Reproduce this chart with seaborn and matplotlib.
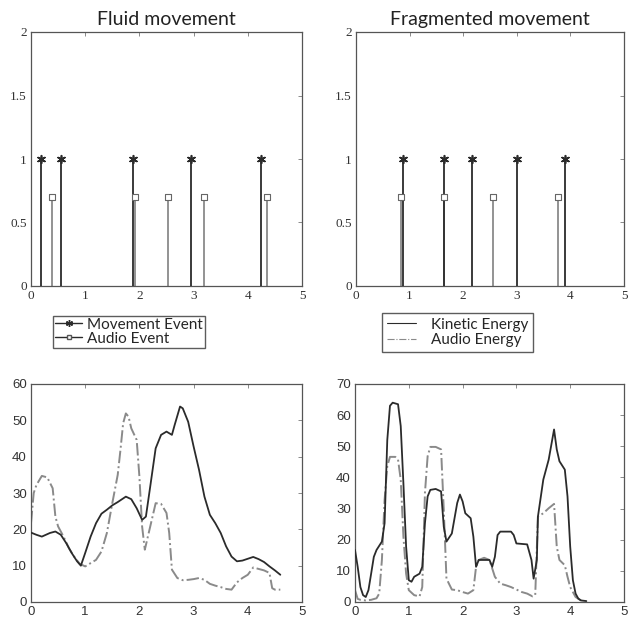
import matplotlib
matplotlib.use("Agg")
import matplotlib.pyplot as plt
import seaborn as sns
import pandas as pd
from matplotlib.lines import Line2D

# ---------------- data ----------------
titles = ["Fluid movement", "Fragmented movement"]

fluid_move_x = [0.18, 0.55, 1.88, 2.96, 4.24]
fluid_audio_x = [0.39, 1.92, 2.52, 3.20, 4.35]
frag_move_x = [0.88, 1.64, 2.16, 3.00, 3.89]
frag_audio_x = [0.84, 1.64, 2.56, 3.76]
move_height = 1.0
audio_height = 0.7

fluid_t = [0, 0.1, 0.2, 0.35, 0.45, 0.55, 0.65, 0.75, 0.85, 0.92, 1.0, 1.1, 1.2, 1.3, 1.4,
           1.5, 1.6, 1.75, 1.85, 1.95, 2.05, 2.12, 2.2, 2.3, 2.4, 2.5, 2.6, 2.65, 2.75, 2.8,
           2.9, 3.0, 3.1, 3.2, 3.3, 3.4, 3.5, 3.6, 3.7, 3.8, 3.9, 4.0, 4.1, 4.2, 4.3, 4.4,
           4.5, 4.6]
fluid_kinetic = [19.1, 18.5, 18.0, 19.0, 19.4, 18.5, 16.2, 13.5, 11.2, 10.0, 13.5, 18.0, 21.7,
                 24.3, 25.4, 26.6, 27.5, 29.0, 28.3, 25.8, 22.6, 23.5, 31.8, 42.3, 46.0, 46.9,
                 46.0, 48.7, 53.8, 53.3, 49.6, 42.8, 36.4, 29.0, 24.0, 21.7, 19.0, 15.3, 12.5,
                 11.2, 11.4, 11.9, 12.4, 11.8, 11.0, 9.8, 8.7, 7.5]

fluid_audio_t = [0, 0.05, 0.1, 0.2, 0.3, 0.4, 0.45, 0.5, 0.6, 0.7, 0.8, 0.9, 1.0, 1.1, 1.2,
                 1.3, 1.4, 1.5, 1.6, 1.65, 1.7, 1.75, 1.8, 1.85, 1.95, 2.0, 2.05, 2.1, 2.2,
                 2.3, 2.4, 2.5, 2.55, 2.6, 2.7, 2.8, 2.9, 3.0, 3.1, 3.2, 3.3, 3.4, 3.5, 3.6,
                 3.7, 3.8, 3.9, 4.0, 4.1, 4.2, 4.3, 4.4, 4.45, 4.5, 4.6]
fluid_audio = [21.7, 30.0, 32.2, 34.7, 34.3, 31.3, 23.5, 20.8, 18.0, 14.8, 12.4, 10.5, 9.8,
               10.7, 11.6, 13.9, 19.0, 27.2, 35.0, 41.8, 49.2, 51.9, 51.0, 47.8, 44.6, 34.5,
               20.8, 14.4, 20.8, 27.2, 27.0, 24.5, 19.0, 8.9, 6.6, 6.0, 6.1, 6.3, 6.6, 6.1,
               5.0, 4.5, 4.1, 3.6, 3.4, 5.4, 6.6, 7.5, 9.5, 9.1, 8.7, 8.0, 3.8, 3.4, 3.4]

frag_t = [0, 0.05, 0.1, 0.15, 0.2, 0.25, 0.3, 0.35, 0.4, 0.5, 0.55, 0.6, 0.65, 0.7, 0.8,
          0.85, 0.9, 0.95, 1.0, 1.05, 1.1, 1.2, 1.25, 1.3, 1.35, 1.4, 1.5, 1.6, 1.65, 1.7,
          1.8, 1.9, 1.95, 2.0, 2.05, 2.15, 2.2, 2.25, 2.3, 2.4, 2.5, 2.55, 2.6, 2.65, 2.7,
          2.9, 2.95, 3.0, 3.2, 3.28, 3.32, 3.38, 3.4, 3.5, 3.6, 3.7, 3.75, 3.8, 3.9, 3.95,
          4.0, 4.05, 4.1, 4.15, 4.2, 4.3]
frag_kinetic = [16.7, 11.3, 4.8, 2.2, 1.6, 3.8, 9.1, 14.5, 16.7, 19.4, 25.3, 52.0, 63.0, 64.0,
                63.5, 56.5, 38.0, 17.8, 7.0, 6.5, 8.1, 9.1, 11.3, 25.3, 33.9, 36.0, 36.3, 35.5,
                24.2, 19.4, 22.0, 31.8, 34.5, 32.3, 28.5, 26.9, 21.0, 11.3, 13.5, 13.5, 13.5,
                11.3, 14.5, 21.5, 22.6, 22.6, 21.5, 18.8, 18.5, 13.5, 7.5, 13.5, 27.4, 39.3,
                45.7, 55.4, 49.0, 45.2, 42.5, 33.9, 17.8, 7.0, 2.7, 1.1, 0.5, 0.3]

frag_audio_t = [0, 0.05, 0.1, 0.2, 0.3, 0.4, 0.45, 0.5, 0.55, 0.6, 0.65, 0.75, 0.8, 0.85, 0.9,
                0.95, 1.0, 1.1, 1.2, 1.25, 1.3, 1.35, 1.4, 1.5, 1.6, 1.65, 1.7, 1.8, 1.9, 2.0,
                2.1, 2.2, 2.25, 2.3, 2.4, 2.5, 2.6, 2.7, 2.8, 2.9, 3.0, 3.1, 3.2, 3.3, 3.35,
                3.4, 3.5, 3.6, 3.7, 3.75, 3.8, 3.9, 3.95, 4.0, 4.1, 4.2]
frag_audio = [3.8, 1.0, 0.7, 0.5, 0.7, 1.2, 2.7, 13.5, 32.8, 43.6, 46.6, 46.6, 45.7, 39.3, 21.0,
              9.1, 3.8, 2.2, 1.8, 4.8, 35.0, 46.8, 49.8, 49.8, 49.0, 29.6, 7.5, 4.0, 3.8, 3.2,
              2.7, 3.8, 11.3, 13.5, 14.2, 13.5, 8.1, 5.9, 5.4, 4.8, 4.0, 3.2, 2.7, 1.8, 2.2,
              27.4, 28.5, 30.1, 31.5, 17.8, 13.5, 11.8, 8.1, 4.8, 1.6, 0.5]

event_labels = ["Movement Event", "Audio Event"]
energy_labels = ["Kinetic Energy", "Audio Energy"]
top_yticks = [0, 0.5, 1, 1.5, 2]
top_yticklabels = ["0", "0.5", "1", "1.5", "2"]
xticks = [0, 1, 2, 3, 4, 5]
bl_yticks = [0, 10, 20, 30, 40, 50, 60]
br_yticks = [0, 10, 20, 30, 40, 50, 60, 70]

# ---------------- style ----------------
sns.set_style("white")
plt.rcParams["font.family"] = ["DejaVu Sans"]

W, H = 629, 624
fig = plt.figure(figsize=(W / 100, H / 100), dpi=100)

def rect(l, t, r, b):
    return [l / W, 1 - b / H, (r - l) / W, (b - t) / H]

ax_tl = fig.add_axes(rect(31, 32, 302, 286))
ax_tr = fig.add_axes(rect(356, 32, 624, 286))
ax_bl = fig.add_axes(rect(31, 384, 302, 602))
ax_br = fig.add_axes(rect(355, 384, 624, 602))

MOVE_C = "#2b2b2b"
AUDIO_C = "#8a8a8a"
SPINE_C = "#555555"
ASTERISK = (6, 2, 0)

def style_axes(ax, serif):
    for s in ax.spines.values():
        s.set_color(SPINE_C)
        s.set_linewidth(0.9)
    ax.tick_params(direction="in", length=3, width=0.6, color="#777777",
                   top=True, right=True, labelsize=9.5, labelcolor="#333333", pad=3)
    fam = ["Liberation Serif"] if serif else ["Liberation Sans"]
    for lab in ax.get_xticklabels() + ax.get_yticklabels():
        lab.set_family(fam)

def draw_events(ax, mx, ax_x, title):
    ax.vlines(ax_x, 0, audio_height, color=AUDIO_C, linewidth=1.3, zorder=2)
    ax.vlines(mx, 0, move_height, color=MOVE_C, linewidth=1.3, zorder=3)
    sns.scatterplot(x=ax_x, y=[audio_height] * len(ax_x), ax=ax, marker="s", s=22,
                    facecolor="white", edgecolor="#666666", linewidth=0.8, zorder=4)
    sns.scatterplot(x=mx, y=[move_height] * len(mx), ax=ax, marker=ASTERISK, s=30,
                    color=MOVE_C, edgecolor=MOVE_C, linewidth=1.2, zorder=5)
    ax.set_xlim(0, 5)
    ax.set_ylim(0, 2)
    ax.set_xticks(xticks)
    ax.set_yticks(top_yticks)
    ax.set_yticklabels(top_yticklabels)
    ax.set_xlabel("")
    ax.set_ylabel("")
    ax.set_title(title, fontsize=14, family=["Lato"], color="#222222", pad=5)
    style_axes(ax, serif=True)

draw_events(ax_tl, fluid_move_x, fluid_audio_x, titles[0])
draw_events(ax_tr, frag_move_x, frag_audio_x, titles[1])

def draw_energy(ax, kt, kv, at, av, ymax, yt):
    sns.lineplot(x=kt, y=kv, ax=ax, color=MOVE_C, linewidth=1.3, zorder=3)
    sns.lineplot(x=at, y=av, ax=ax, color=AUDIO_C, linewidth=1.4, linestyle="-.", zorder=2)
    ax.set_xlim(0, 5)
    ax.set_ylim(0, ymax)
    ax.set_xticks(xticks)
    ax.set_yticks(yt)
    ax.set_xlabel("")
    ax.set_ylabel("")
    style_axes(ax, serif=False)

draw_energy(ax_bl, fluid_t, fluid_kinetic, fluid_audio_t, fluid_audio, 60, bl_yticks)
draw_energy(ax_br, frag_t, frag_kinetic, frag_audio_t, frag_audio, 70, br_yticks)

# ---------------- legends ----------------
h_events = [
    Line2D([], [], color=MOVE_C, linewidth=1.0, marker=ASTERISK, markersize=5,
           markeredgewidth=1.0),
    Line2D([], [], color=MOVE_C, linewidth=1.0, marker="s", markersize=3.5,
           markerfacecolor="white", markeredgecolor="#555555"),
]
leg1 = fig.legend(h_events, event_labels, loc="upper left",
                  bbox_to_anchor=(53 / W, 1 - 316 / H), frameon=True, fancybox=False,
                  edgecolor="#333333", prop={"family": "Lato", "size": 11},
                  handlelength=1.8, handletextpad=0.3, borderpad=0.12, labelspacing=0.0,
                  borderaxespad=0, numpoints=1, markerfirst=True)
leg1.get_frame().set_linewidth(1.0)

h_energy = [
    Line2D([], [], color=MOVE_C, linewidth=0.8),
    Line2D([], [], color=AUDIO_C, linewidth=0.8, linestyle="-."),
]
leg2 = fig.legend(h_energy, energy_labels, loc="upper left",
                  bbox_to_anchor=(382 / W, 1 - 313 / H), frameon=True, fancybox=False,
                  edgecolor="#333333", prop={"family": "Lato", "size": 11},
                  handlelength=1.9, handletextpad=1.0, borderpad=0.3, labelspacing=0.1,
                  borderaxespad=0)
leg2.get_frame().set_linewidth(1.0)

fig.savefig("out.png", dpi=100, facecolor="white")
